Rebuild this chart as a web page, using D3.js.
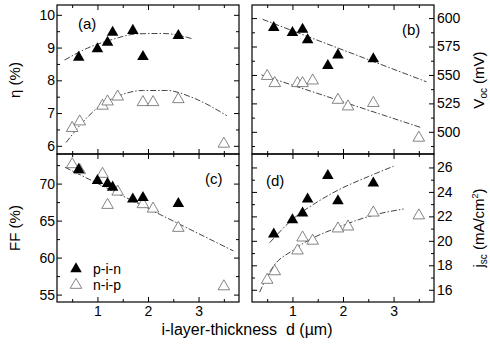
<!DOCTYPE html>
<html>
<head>
<meta charset="utf-8">
<script src="https://cdn.jsdelivr.net/npm/d3@7/dist/d3.min.js"></script>
<style>
body { margin: 0; background: #fff; }
svg { display: block; font-family: "Liberation Sans", Arial, sans-serif; }
.tick line { stroke: #000; }
.tick text { font-size: 14px; fill: #000; }
.fit { fill: none; stroke: #444; stroke-width: 1; stroke-dasharray: 6,2,1.5,2; }
.pin { fill: #000; }
.nip { fill: #fff; stroke: #666; stroke-width: 0.8; }
</style>
</head>
<body>
<div class="container"></div>
<script>
// thickness values (um)
var dPin = [0.63, 1.0, 1.2, 1.3, 1.7, 1.9, 2.6];
var dNip = [0.5, 0.65, 1.1, 1.2, 1.4, 1.9, 2.1, 2.6, 3.5];

// (a) efficiency %
var etaPin = [8.7, 8.96, 9.16, 9.46, 9.52, 8.72, 9.36];
var etaNip = [6.54, 6.74, 7.22, 7.35, 7.5, 7.33, 7.33, 7.42, 6.06];
// (b) Voc mV
var vocPin = [591.5, 587.1, 590.1, 580.7, 558.2, 567.5, 564];
var vocNip = [549, 542.7, 542.7, 542.7, 545, 528, 522.2, 525.2, 494.7];
// (c) FF %
var ffPin = [71.9, 70.4, 70.0, 69.5, 67.9, 68.1, 67.3];
var ffNip = [72.6, 71.8, 71.3, 67.1, 68.9, 67.2, 66.6, 64.0, 56.1];
// (d) jsc mA/cm2
var jscPin = [20.54, 21.71, 22.26, 23.41, 25.32, 23.27, 24.72];
var jscNip = [16.8, 17.5, 19.2, 20.26, 20.0, 21.0, 21.16, 22.3, 22.07];

// fit lines
var fitEtaPinD = [0.35, 0.8, 1.3, 1.8, 2.3, 2.9];
var fitEtaPinY = [8.62, 8.98, 9.25, 9.42, 9.43, 9.26];
var fitEtaNipD = [0.38, 0.72, 1.05, 1.38, 1.91, 2.37, 2.9, 3.56];
var fitEtaNipY = [6.1, 6.74, 7.22, 7.5, 7.69, 7.69, 7.46, 6.92];
var fitVocPinD = [0.41, 3.65];
var fitVocPinY = [598.9, 544];
var fitVocNipD = [0.39, 3.54];
var fitVocNipY = [550, 503.8];
var fitFfD = [0.36, 3.69];
var fitFfY = [72.2, 60.9];
var fitJscPinD = [0.55, 1.0, 1.5, 2.0, 2.5, 3.0];
var fitJscPinY = [19.85, 21.75, 23.2, 24.35, 25.25, 26.1];
var fitJscNipD = [0.35, 0.62, 1.0, 1.3, 1.9, 2.6, 3.2];
var fitJscNipY = [15.8, 17.9, 19.2, 20.0, 21.1, 22.1, 22.6];

// ticks
var xMajor = [1, 2, 3];
var xMinor = [0.5, 1.5, 2.5, 3.5];
var etaMajor = [6, 7, 8, 9, 10];
var etaMinor = [6.5, 7.5, 8.5, 9.5];
var vocMajor = [500, 525, 550, 575, 600];
var vocMinor = [487.5, 512.5, 537.5, 562.5, 587.5];
var ffMajor = [55, 60, 65, 70];
var ffMinor = [57.5, 62.5, 67.5, 72.5];
var jscMajor = [16, 18, 20, 22, 24, 26];
var jscMinor = [17, 19, 21, 23, 25];

var WIDTH = 490, HEIGHT = 349;
var LEFT_X = [57, 239], RIGHT_X = [252, 434];
var TOP_Y = [5, 154], BOT_Y = [154, 302];

var svg = d3.select('.container').append('svg')
	.attr('width', WIDTH)
	.attr('height', HEIGHT);

var zip = function(a, b) {
	return a.map(function(v, i) { return [v, b[i]]; });
}

var addAxis = function(axis, x, y) {
	var g = svg.append('g').attr('transform', 'translate(' + x + ',' + y + ')').call(axis);
	g.select('.domain').remove();
	return g;
}

var drawPanel = function(p) {
	var x = d3.scaleLinear().domain([0.2, 3.8]).range(p.xr);
	var y = d3.scaleLinear().domain(p.yd).range([p.yr[1], p.yr[0]]);
	var none = function() { return ''; };

	// x ticks, bottom and top
	addAxis(d3.axisBottom(x).tickValues(xMajor).tickSize(-5).tickPadding(4)
		.tickFormat(p.bottom ? d3.format('d') : none), 0, p.yr[1]);
	addAxis(d3.axisBottom(x).tickValues(xMinor).tickSize(-3).tickFormat(none), 0, p.yr[1]);
	addAxis(d3.axisTop(x).tickValues(xMajor).tickSize(-5).tickFormat(none), 0, p.yr[0]);
	addAxis(d3.axisTop(x).tickValues(xMinor).tickSize(-3).tickFormat(none), 0, p.yr[0]);

	// y ticks, left and right
	addAxis(d3.axisLeft(y).tickValues(p.major).tickSize(-5).tickPadding(2)
		.tickFormat(p.side == 'left' ? d3.format('d') : none), p.xr[0], 0);
	addAxis(d3.axisLeft(y).tickValues(p.minor).tickSize(-3).tickFormat(none), p.xr[0], 0);
	addAxis(d3.axisRight(y).tickValues(p.major).tickSize(-5).tickPadding(3)
		.tickFormat(p.side == 'right' ? d3.format('d') : none), p.xr[1], 0);
	addAxis(d3.axisRight(y).tickValues(p.minor).tickSize(-3).tickFormat(none), p.xr[1], 0);

	svg.append('rect')
		.attr('x', p.xr[0]).attr('y', p.yr[0])
		.attr('width', p.xr[1] - p.xr[0]).attr('height', p.yr[1] - p.yr[0])
		.attr('fill', 'none').attr('stroke', '#000').attr('stroke-width', 1.2);

	var line = d3.line()
		.curve(d3.curveMonotoneX)
		.x(function(d) { return x(d[0]); })
		.y(function(d) { return y(d[1]); });

	p.fits.forEach(function(f) {
		svg.append('path').datum(f).attr('class', 'fit').attr('d', line);
	});

	var tri = d3.symbol().type(d3.symbolTriangle).size(58);
	svg.append('g').selectAll('path').data(p.nip).enter().append('path')
		.attr('class', 'nip').attr('d', tri)
		.attr('transform', function(d) { return 'translate(' + x(d[0]) + ',' + y(d[1]) + ')'; });
	svg.append('g').selectAll('path').data(p.pin).enter().append('path')
		.attr('class', 'pin').attr('d', tri)
		.attr('transform', function(d) { return 'translate(' + x(d[0]) + ',' + y(d[1]) + ')'; });

	svg.append('text').attr('x', p.tag[0]).attr('y', p.tag[1])
		.attr('font-size', 15).text(p.label);
}

drawPanel({xr: LEFT_X, yr: TOP_Y, yd: [5.75, 10.3], major: etaMajor, minor: etaMinor,
	side: 'left', bottom: false, label: '(a)', tag: [78, 29],
	pin: zip(dPin, etaPin), nip: zip(dNip, etaNip),
	fits: [zip(fitEtaPinD, fitEtaPinY), zip(fitEtaNipD, fitEtaNipY)]});
drawPanel({xr: RIGHT_X, yr: TOP_Y, yd: [480.5, 611.5], major: vocMajor, minor: vocMinor,
	side: 'right', bottom: false, label: '(b)', tag: [402, 35],
	pin: zip(dPin, vocPin), nip: zip(dNip, vocNip),
	fits: [zip(fitVocPinD, fitVocPinY), zip(fitVocNipD, fitVocNipY)]});
drawPanel({xr: LEFT_X, yr: BOT_Y, yd: [54, 74], major: ffMajor, minor: ffMinor,
	side: 'left', bottom: true, label: '(c)', tag: [205, 184],
	pin: zip(dPin, ffPin), nip: zip(dNip, ffNip),
	fits: [zip(fitFfD, fitFfY)]});
drawPanel({xr: RIGHT_X, yr: BOT_Y, yd: [15, 27.1], major: jscMajor, minor: jscMinor,
	side: 'right', bottom: true, label: '(d)', tag: [266, 186],
	pin: zip(dPin, jscPin), nip: zip(dNip, jscNip),
	fits: [zip(fitJscPinD, fitJscPinY), zip(fitJscNipD, fitJscNipY)]});

// legend in panel (c)
var tri = d3.symbol().type(d3.symbolTriangle).size(58);
svg.append('path').attr('class', 'pin').attr('d', tri).attr('transform', 'translate(76,269)');
svg.append('path').attr('class', 'nip').attr('d', tri).attr('transform', 'translate(76,285)');
svg.append('text').attr('x', 93).attr('y', 274).attr('font-size', 14).text('p-i-n');
svg.append('text').attr('x', 93).attr('y', 290).attr('font-size', 14).text('n-i-p');

// axis titles
svg.append('text').attr('transform', 'translate(20,80) rotate(-90)')
	.attr('text-anchor', 'middle').attr('font-size', 15).text('η (%)');
svg.append('text').attr('transform', 'translate(20,228) rotate(-90)')
	.attr('text-anchor', 'middle').attr('font-size', 15).text('FF (%)');

var voc = svg.append('text').attr('transform', 'translate(484,80) rotate(-90)')
	.attr('text-anchor', 'middle').attr('font-size', 15);
voc.append('tspan').text('V');
voc.append('tspan').attr('font-size', 10).attr('dy', 3).text('oc');
voc.append('tspan').attr('dy', -3).text(' (mV)');

var jsc = svg.append('text').attr('transform', 'translate(484,228) rotate(-90)')
	.attr('text-anchor', 'middle').attr('font-size', 15);
jsc.append('tspan').text('j');
jsc.append('tspan').attr('font-size', 10).attr('dy', 3).text('sc');
jsc.append('tspan').attr('dy', -3).text(' (mA/cm');
jsc.append('tspan').attr('font-size', 9).attr('dy', -6).text('2');
jsc.append('tspan').attr('dy', 6).text(')');

svg.append('text').attr('x', 247).attr('y', 335).attr('text-anchor', 'middle')
	.attr('font-size', 16).attr('xml:space', 'preserve').text('i-layer-thickness  d (µm)');
</script>
</body>
</html>
